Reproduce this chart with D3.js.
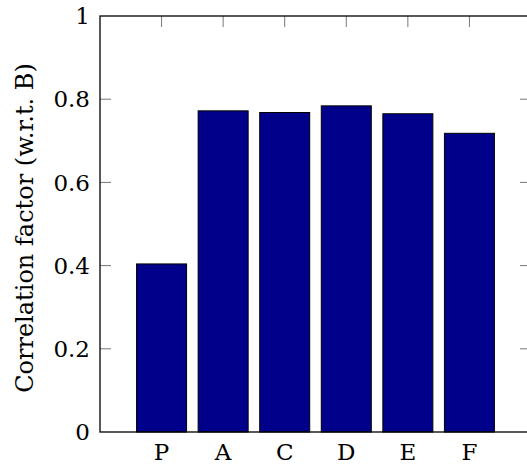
<!DOCTYPE html>
<html>
<head>
<meta charset="utf-8">
<script src="https://cdn.jsdelivr.net/npm/d3@7"></script>
<style>
  body { margin: 0; background: #fff; }
</style>
</head>
<body>
<svg id="chart" width="527" height="465" font-family="'DejaVu Serif', 'Liberation Serif', serif"></svg>
<script>
const categories = ['P', 'A', 'C', 'D', 'E', 'F']
const correlation = [0.404, 0.772, 0.768, 0.784, 0.765, 0.718]
const yTicks = [0, 0.2, 0.4, 0.6, 0.8, 1]

const svg = d3.select('#chart')
const barColor = '#00008b'
const fontSize = 23

const plotLeft = 100
const plotRight = 531
const plotTop = 16
const plotBottom = 432
const barWidth = 50
const tickLen = 11

// categories sit at 0..5, the axis runs one step beyond on each side
const xScale = d3.scaleLinear()
	.domain([-1, categories.length])
	.range([plotLeft, plotRight])

const yScale = d3.scaleLinear()
	.domain([0, 1])
	.range([plotBottom, plotTop])

// bars
svg.selectAll('rect.bar')
	.data(correlation)
	.enter()
	.append('rect')
		.attr('class', 'bar')
		.attr('x', (d, i) => xScale(i) - barWidth / 2)
		.attr('y', d => yScale(d))
		.attr('width', barWidth)
		.attr('height', d => yScale(0) - yScale(d))
		.attr('fill', barColor)
		.attr('stroke', '#000')
		.attr('stroke-width', 1)

// inward ticks, mirrored on all sides
const ticks = svg.append('g')
	.attr('stroke', '#777')
	.attr('stroke-width', 1)

ticks.selectAll('line.ytl')
	.data(yTicks.slice(1, -1))
	.enter()
	.append('line')
		.attr('class', 'ytl')
		.attr('x1', plotLeft).attr('x2', plotLeft + tickLen)
		.attr('y1', d => yScale(d)).attr('y2', d => yScale(d))

ticks.selectAll('line.ytr')
	.data(yTicks.slice(1, -1))
	.enter()
	.append('line')
		.attr('class', 'ytr')
		.attr('x1', plotRight).attr('x2', plotRight - tickLen)
		.attr('y1', d => yScale(d)).attr('y2', d => yScale(d))

ticks.selectAll('line.xtt')
	.data(categories)
	.enter()
	.append('line')
		.attr('class', 'xtt')
		.attr('x1', (d, i) => xScale(i)).attr('x2', (d, i) => xScale(i))
		.attr('y1', plotTop).attr('y2', plotTop + tickLen)

// frame
svg.append('rect')
	.attr('x', plotLeft)
	.attr('y', plotTop)
	.attr('width', plotRight - plotLeft)
	.attr('height', plotBottom - plotTop)
	.attr('fill', 'none')
	.attr('stroke', '#000')
	.attr('stroke-width', 1.3)

// tick labels
svg.selectAll('text.ylab')
	.data(yTicks)
	.enter()
	.append('text')
		.attr('class', 'ylab')
		.attr('x', plotLeft - 10)
		.attr('y', d => yScale(d))
		.attr('dy', '0.36em')
		.attr('text-anchor', 'end')
		.attr('font-size', fontSize)
		.text(d => d3.format('~g')(d))

svg.selectAll('text.xlab')
	.data(categories)
	.enter()
	.append('text')
		.attr('class', 'xlab')
		.attr('x', (d, i) => xScale(i))
		.attr('y', 460)
		.attr('text-anchor', 'middle')
		.attr('font-size', fontSize)
		.text(d => d)

svg.append('text')
	.attr('transform', `translate(33, ${(plotTop + plotBottom) / 2 + 4}) rotate(-90)`)
	.attr('text-anchor', 'middle')
	.attr('font-size', 24)
	.text('Correlation factor (w.r.t. B)')
</script>
</body>
</html>
